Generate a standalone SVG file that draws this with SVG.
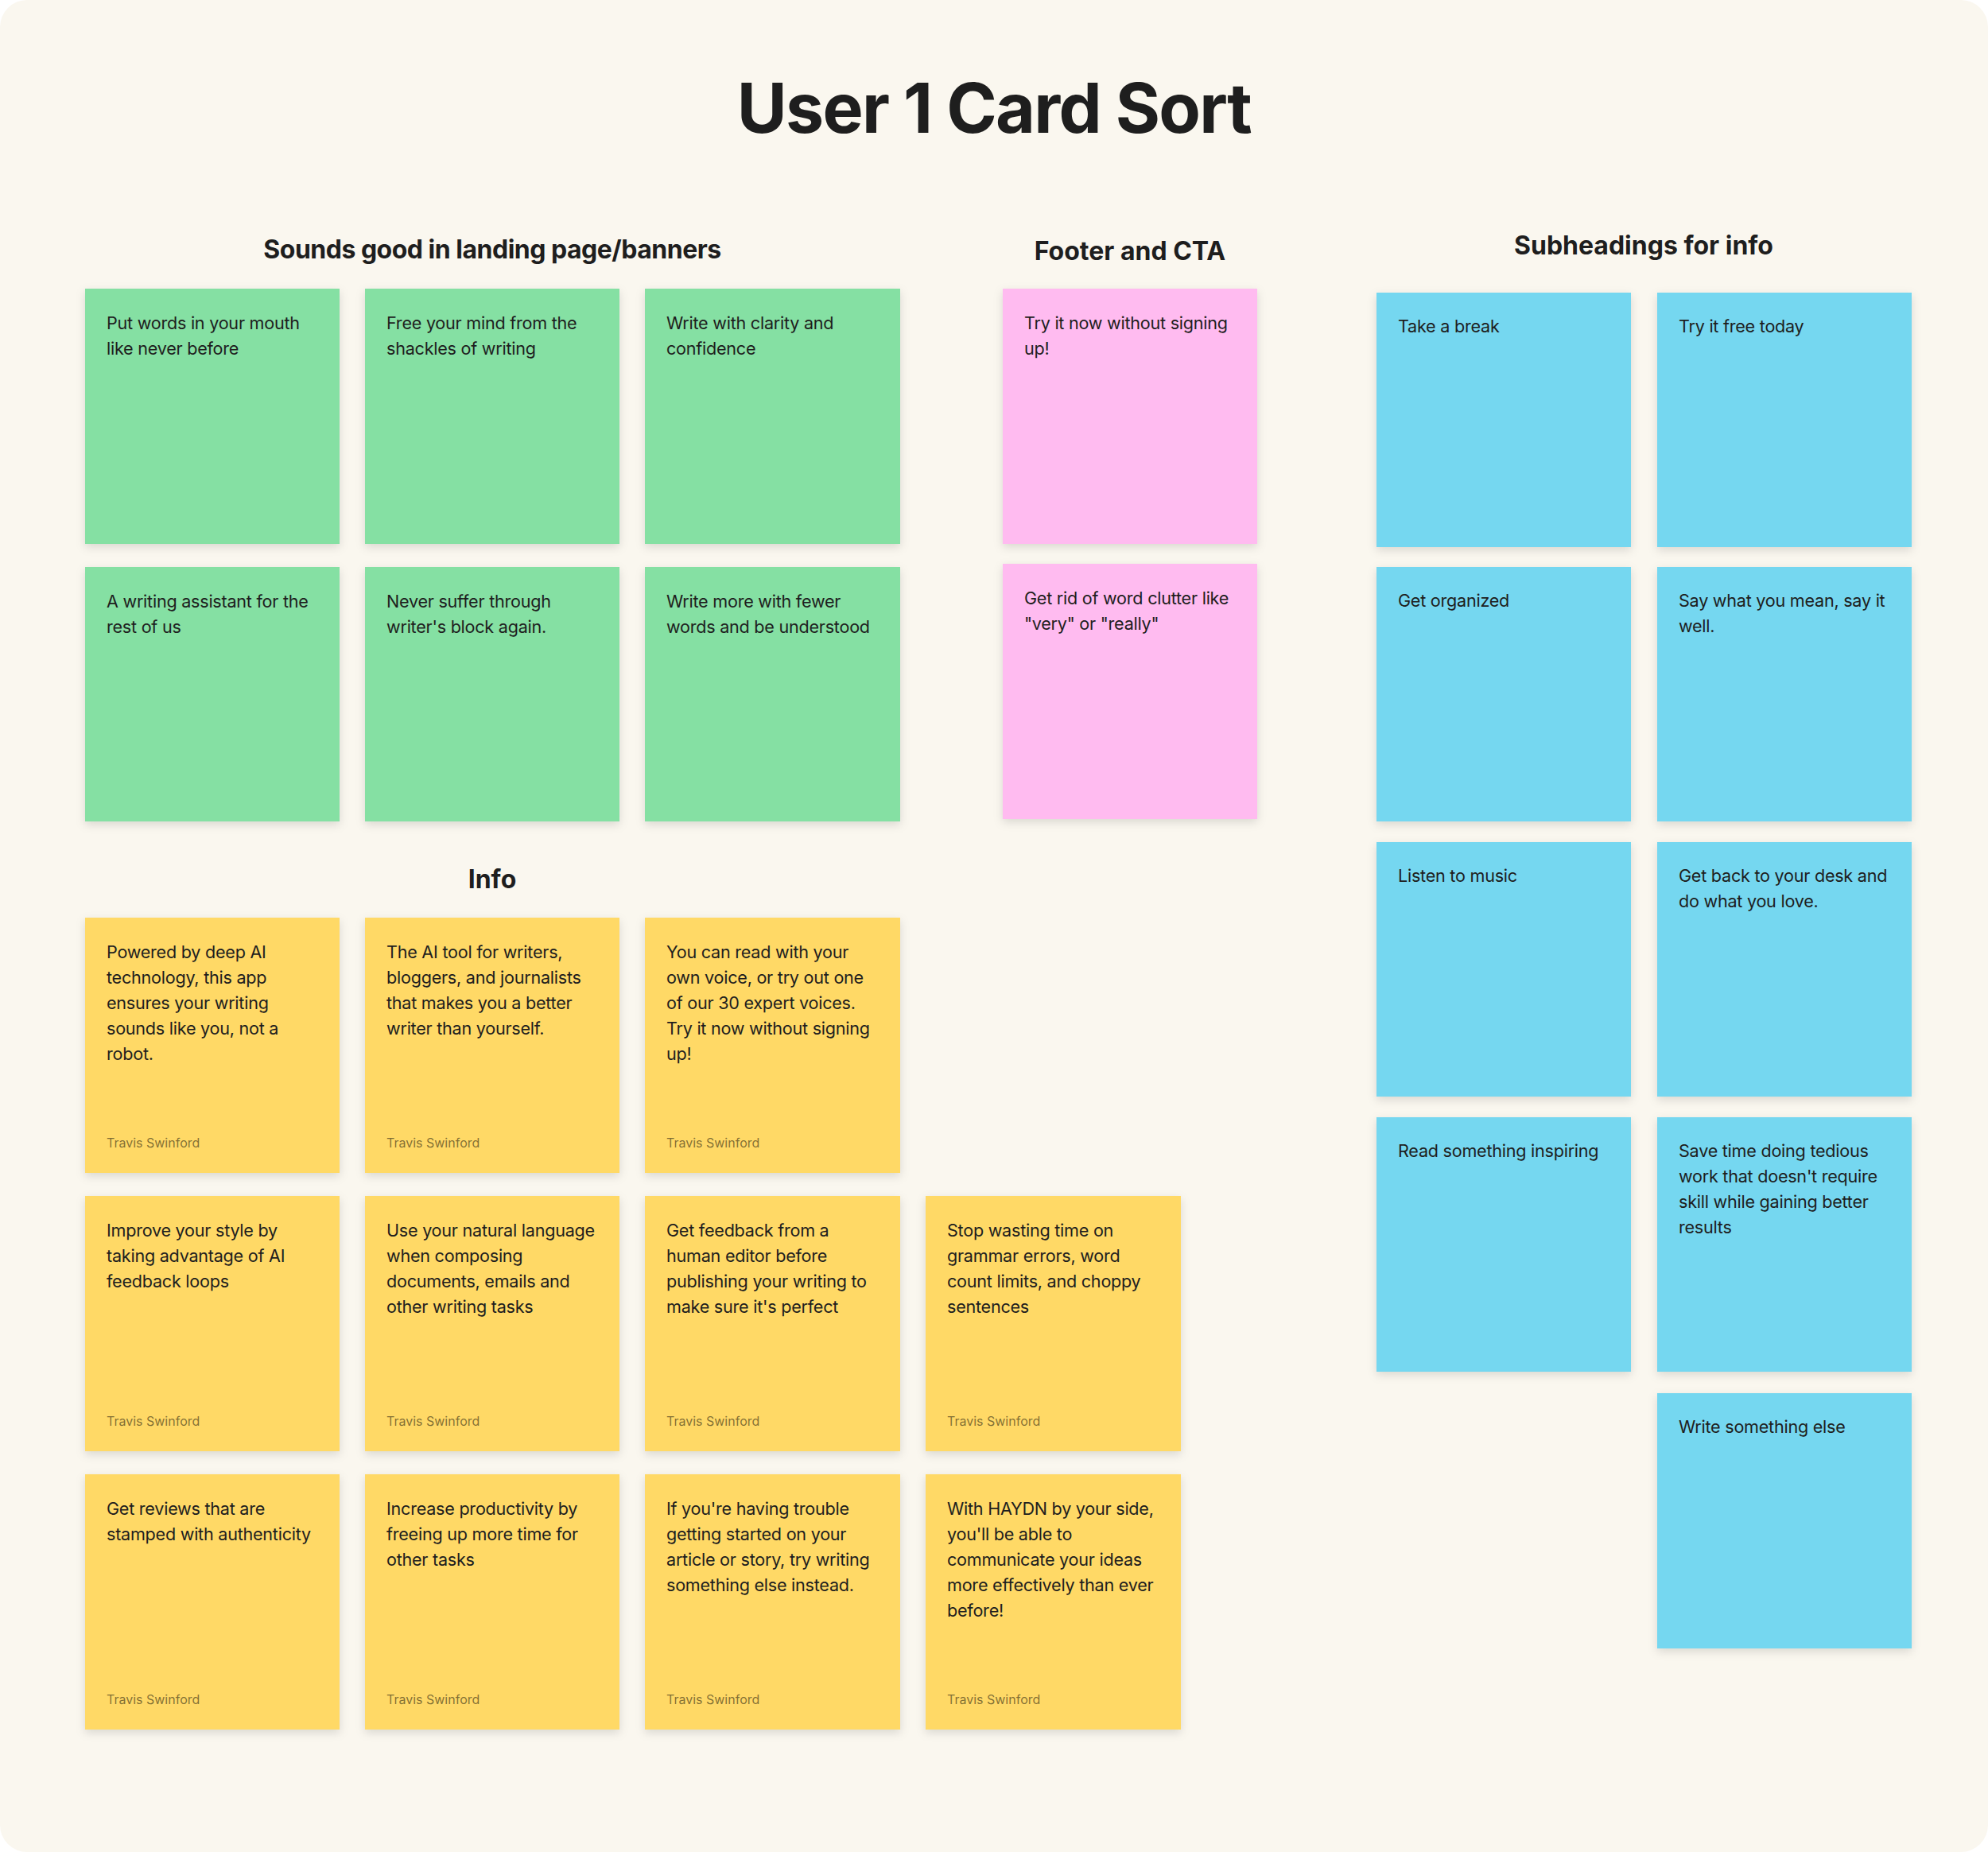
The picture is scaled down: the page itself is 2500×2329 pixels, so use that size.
<svg xmlns="http://www.w3.org/2000/svg" width="2500" height="2329" viewBox="0 0 2500 2329">
<defs>
<filter id="sh" x="-10%" y="-10%" width="120%" height="125%">
<feDropShadow dx="0" dy="4" stdDeviation="6" flood-color="#000" flood-opacity="0.13"/>
</filter>
<style>
.t{font-family:Inter,"Noto Sans","Liberation Sans",sans-serif;fill:#1e1e1e;font-size:21.6px;letter-spacing:-0.25px}
.a{font-family:Inter,"Noto Sans","Liberation Sans",sans-serif;fill:#000;fill-opacity:0.5;font-size:16px}
.h{font-family:Inter,"Noto Sans","Liberation Sans",sans-serif;fill:#1e1e1e;font-size:32px;font-weight:700;text-anchor:middle}
.title{font-family:Inter,"Noto Sans","Liberation Sans",sans-serif;fill:#1e1e1e;font-size:86px;font-weight:700;text-anchor:middle;letter-spacing:-1.7px}
.g{fill:#85E0A3;filter:url(#sh)}
.p{fill:#FFBBF0;filter:url(#sh)}
.b{fill:#75D7F0;filter:url(#sh)}
.y{fill:#FFD966;filter:url(#sh)}
</style>
</defs>
<rect width="2500" height="2329" fill="#ffffff"/>
<rect width="2500" height="2329" rx="34" fill="#FAF7EF"/>

<text class="title" x="1250" y="167">User 1 Card Sort</text>
<text class="h" x="619" y="325" style="letter-spacing:-0.5px">Sounds good in landing page/banners</text>
<text class="h" x="1421" y="327">Footer and CTA</text>
<text class="h" x="2067" y="320">Subheadings for info</text>
<text class="h" x="619" y="1117">Info</text>

<g id="connectors"/>

<!-- Green -->
<g id="g1"><rect class="g" x="107" y="363" width="320" height="321"/>
<text class="t" x="134" y="414">Put words in your mouth</text><text class="t" x="134" y="446">like never before</text></g>
<g id="g2"><rect class="g" x="459" y="363" width="320" height="321"/>
<text class="t" x="486" y="414">Free your mind from the</text><text class="t" x="486" y="446">shackles of writing</text></g>
<g id="g3"><rect class="g" x="811" y="363" width="321" height="321"/>
<text class="t" x="838" y="414">Write with clarity and</text><text class="t" x="838" y="446">confidence</text></g>
<g id="g4"><rect class="g" x="107" y="713" width="320" height="320"/>
<text class="t" x="134" y="764">A writing assistant for the</text><text class="t" x="134" y="796">rest of us</text></g>
<g id="g5"><rect class="g" x="459" y="713" width="320" height="320"/>
<text class="t" x="486" y="764">Never suffer through</text><text class="t" x="486" y="796">writer's block again.</text></g>
<g id="g6"><rect class="g" x="811" y="713" width="321" height="320"/>
<text class="t" x="838" y="764">Write more with fewer</text><text class="t" x="838" y="796">words and be understood</text></g>

<!-- Pink -->
<g id="p1"><rect class="p" x="1261" y="363" width="320" height="321"/>
<text class="t" x="1288" y="414">Try it now without signing</text><text class="t" x="1288" y="446">up!</text></g>
<g id="p2"><rect class="p" x="1261" y="709" width="320" height="321"/>
<text class="t" x="1288" y="760">Get rid of word clutter like</text><text class="t" x="1288" y="792">"very" or "really"</text></g>

<!-- Blue -->
<g id="b1"><rect class="b" x="1731" y="368" width="320" height="320"/>
<text class="t" x="1758" y="418">Take a break</text></g>
<g id="b2"><rect class="b" x="2084" y="368" width="320" height="320"/>
<text class="t" x="2111" y="418">Try it free today</text></g>
<g id="b3"><rect class="b" x="1731" y="713" width="320" height="320"/>
<text class="t" x="1758" y="763">Get organized</text></g>
<g id="b4"><rect class="b" x="2084" y="713" width="320" height="320"/>
<text class="t" x="2111" y="763">Say what you mean, say it</text><text class="t" x="2111" y="795">well.</text></g>
<g id="b5"><rect class="b" x="1731" y="1059" width="320" height="320"/>
<text class="t" x="1758" y="1109">Listen to music</text></g>
<g id="b6"><rect class="b" x="2084" y="1059" width="320" height="320"/>
<text class="t" x="2111" y="1109">Get back to your desk and</text><text class="t" x="2111" y="1141">do what you love.</text></g>
<g id="b7"><rect class="b" x="1731" y="1405" width="320" height="320"/>
<text class="t" x="1758" y="1455">Read something inspiring</text></g>
<g id="b8"><rect class="b" x="2084" y="1405" width="320" height="320"/>
<text class="t" x="2111" y="1455">Save time doing tedious</text><text class="t" x="2111" y="1487">work that doesn't require</text><text class="t" x="2111" y="1519">skill while gaining better</text><text class="t" x="2111" y="1551">results</text></g>
<g id="b9"><rect class="b" x="2084" y="1752" width="320" height="321"/>
<text class="t" x="2111" y="1802">Write something else</text></g>

<!-- Yellow row 1 -->
<g id="y1"><rect class="y" x="107" y="1154" width="320" height="321"/>
<text class="t" x="134" y="1205">Powered by deep AI</text><text class="t" x="134" y="1237">technology, this app</text><text class="t" x="134" y="1269">ensures your writing</text><text class="t" x="134" y="1301">sounds like you, not a</text><text class="t" x="134" y="1333">robot.</text>
<text class="a" x="134" y="1443">Travis Swinford</text></g>
<g id="y2"><rect class="y" x="459" y="1154" width="320" height="321"/>
<text class="t" x="486" y="1205">The AI tool for writers,</text><text class="t" x="486" y="1237">bloggers, and journalists</text><text class="t" x="486" y="1269">that makes you a better</text><text class="t" x="486" y="1301">writer than yourself.</text>
<text class="a" x="486" y="1443">Travis Swinford</text></g>
<g id="y3"><rect class="y" x="811" y="1154" width="321" height="321"/>
<text class="t" x="838" y="1205">You can read with your</text><text class="t" x="838" y="1237">own voice, or try out one</text><text class="t" x="838" y="1269">of our 30 expert voices.</text><text class="t" x="838" y="1301">Try it now without signing</text><text class="t" x="838" y="1333">up!</text>
<text class="a" x="838" y="1443">Travis Swinford</text></g>

<!-- Yellow row 2 -->
<g id="y4"><rect class="y" x="107" y="1504" width="320" height="321"/>
<text class="t" x="134" y="1555">Improve your style by</text><text class="t" x="134" y="1587">taking advantage of AI</text><text class="t" x="134" y="1619">feedback loops</text>
<text class="a" x="134" y="1793">Travis Swinford</text></g>
<g id="y5"><rect class="y" x="459" y="1504" width="320" height="321"/>
<text class="t" x="486" y="1555">Use your natural language</text><text class="t" x="486" y="1587">when composing</text><text class="t" x="486" y="1619">documents, emails and</text><text class="t" x="486" y="1651">other writing tasks</text>
<text class="a" x="486" y="1793">Travis Swinford</text></g>
<g id="y6"><rect class="y" x="811" y="1504" width="321" height="321"/>
<text class="t" x="838" y="1555">Get feedback from a</text><text class="t" x="838" y="1587">human editor before</text><text class="t" x="838" y="1619">publishing your writing to</text><text class="t" x="838" y="1651">make sure it's perfect</text>
<text class="a" x="838" y="1793">Travis Swinford</text></g>
<g id="y7"><rect class="y" x="1164" y="1504" width="321" height="321"/>
<text class="t" x="1191" y="1555">Stop wasting time on</text><text class="t" x="1191" y="1587">grammar errors, word</text><text class="t" x="1191" y="1619">count limits, and choppy</text><text class="t" x="1191" y="1651">sentences</text>
<text class="a" x="1191" y="1793">Travis Swinford</text></g>

<!-- Yellow row 3 -->
<g id="y8"><rect class="y" x="107" y="1854" width="320" height="321"/>
<text class="t" x="134" y="1905">Get reviews that are</text><text class="t" x="134" y="1937">stamped with authenticity</text>
<text class="a" x="134" y="2143">Travis Swinford</text></g>
<g id="y9"><rect class="y" x="459" y="1854" width="320" height="321"/>
<text class="t" x="486" y="1905">Increase productivity by</text><text class="t" x="486" y="1937">freeing up more time for</text><text class="t" x="486" y="1969">other tasks</text>
<text class="a" x="486" y="2143">Travis Swinford</text></g>
<g id="y10"><rect class="y" x="811" y="1854" width="321" height="321"/>
<text class="t" x="838" y="1905">If you're having trouble</text><text class="t" x="838" y="1937">getting started on your</text><text class="t" x="838" y="1969">article or story, try writing</text><text class="t" x="838" y="2001">something else instead.</text>
<text class="a" x="838" y="2143">Travis Swinford</text></g>
<g id="y11"><rect class="y" x="1164" y="1854" width="321" height="321"/>
<text class="t" x="1191" y="1905">With HAYDN by your side,</text><text class="t" x="1191" y="1937">you'll be able to</text><text class="t" x="1191" y="1969">communicate your ideas</text><text class="t" x="1191" y="2001">more effectively than ever</text><text class="t" x="1191" y="2033">before!</text>
<text class="a" x="1191" y="2143">Travis Swinford</text></g>
</svg>
